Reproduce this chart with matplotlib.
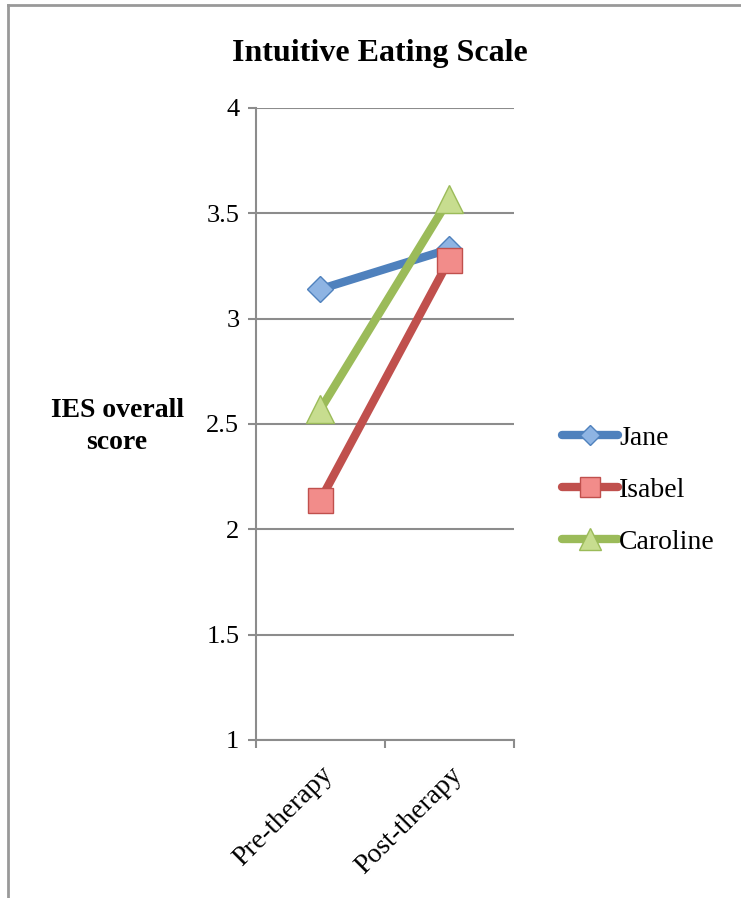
import matplotlib.pyplot as plt
from matplotlib.lines import Line2D

phases = ['Pre-therapy', 'Post-therapy']
jane = [3.14, 3.33]
isabel = [2.14, 3.28]
caroline = [2.57, 3.57]
yticks = [1, 1.5, 2, 2.5, 3, 3.5, 4]

plt.rcParams['font.family'] = ['Liberation Serif', 'DejaVu Serif']

fig = plt.figure(figsize=(7.41, 8.98), dpi=100)
ax = fig.add_axes([0.3455, 0.176, 0.348, 0.7038])

# (name, values, line colour, marker, marker fill, marker size)
series = [
    ('Jane', jane, '#4F81BD', 'D', '#8EB4E3', 13),
    ('Isabel', isabel, '#C0504D', 's', '#F28C8A', 18),
    ('Caroline', caroline, '#9BBB59', '^', '#C7DD8F', 20),
]
x = list(range(len(phases)))
for name, vals, col, mk, fill, ms in series:
    ax.plot(x, vals, color=col, lw=6, marker=mk, ms=ms,
            markerfacecolor=fill, markeredgecolor=col, markeredgewidth=1,
            solid_capstyle='round', label=name)

ax.set_xlim(-0.5, 1.5)
ax.set_ylim(1, 4)
ax.set_yticks(yticks)
ax.set_yticklabels(['1', '1.5', '2', '2.5', '3', '3.5', '4'], fontsize=19)
ax.yaxis.grid(True, color='#8c8c8c', lw=1.5)
ax.set_axisbelow(True)

# category labels centred in bins, ticks on the bin edges
ax.set_xticks([-0.5, 0.5, 1.5])
ax.set_xticklabels([])
ax.set_xticks(x, minor=True)
ax.set_xticklabels(phases, minor=True, rotation=45, ha='right',
                   rotation_mode='anchor', fontsize=20)
ax.tick_params(axis='x', which='minor', length=0, pad=16)
ax.tick_params(axis='x', which='major', length=6, color='#8c8c8c', width=1.5)
ax.tick_params(axis='y', length=6, color='#8c8c8c', width=1.5, pad=6)

for s in ['top', 'right']:
    ax.spines[s].set_visible(False)
for s in ['left', 'bottom']:
    ax.spines[s].set_color('#8c8c8c')
    ax.spines[s].set_linewidth(1.5)

fig.text(0.513, 0.94, 'Intuitive Eating Scale', ha='center', va='center',
         fontsize=23, fontweight='bold')
fig.text(0.158, 0.525, 'IES overall\nscore', ha='center', va='center',
         fontsize=20, fontweight='bold', linespacing=1.35)

ax.legend(loc='center left', bbox_to_anchor=(1.09, 0.395), frameon=False,
          fontsize=20, handlelength=2.0, handletextpad=0.05, labelspacing=0.95,
          markerscale=0.8)

# outer frame along the left and top edges
fig.add_artist(Line2D([0.011, 0.011], [0, 0.994], color='#999999', lw=2,
                      transform=fig.transFigure))
fig.add_artist(Line2D([0.011, 1], [0.994, 0.994], color='#999999', lw=2,
                      transform=fig.transFigure))

plt.savefig('out.png', dpi=100)
